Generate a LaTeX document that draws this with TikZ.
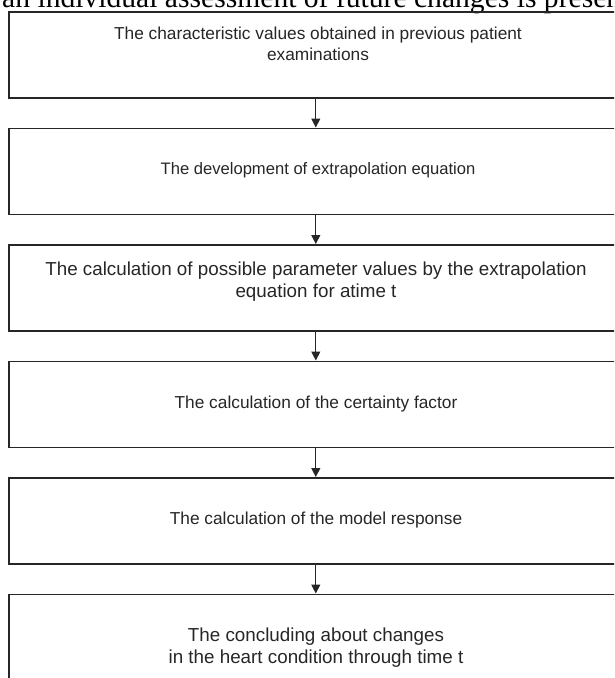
\documentclass[tikz,border=0pt]{standalone}
\usepackage{fontspec}
\setmainfont{Liberation Sans}
\newfontfamily\serifhead{Liberation Serif}
\usetikzlibrary{arrows.meta}
\begin{document}
\begin{tikzpicture}[x=1pt,y=-1pt,
  stepbox/.style={draw=black!85, line width=1.6pt, minimum width=614pt, minimum height=86pt, inner sep=0pt, anchor=north west},
  lbl/.style={align=center, font=\fontsize{17.3}{21.5}\selectfont, inner sep=0pt, text=black!85},
  biglbl/.style={lbl, font=\fontsize{18.8}{22}\selectfont},
  flow/.style={draw=black!85, line width=1.2pt, -{Triangle[length=9pt,width=9pt]}}]
\useasboundingbox (0,0) rectangle (614,678);
\clip (0,0) rectangle (614,678);
\node[anchor=base west, inner sep=0pt, font=\serifhead\fontsize{29.6}{31}\selectfont] (hdr) at (2,7) {an individual assessment of future changes is presented};
\node[stepbox] (b1) at (8,11) {};
\node[stepbox] (b2) at (8,127.5) {};
\node[stepbox] (b3) at (8,244) {};
\node[stepbox] (b4) at (8,360.5) {};
\node[stepbox] (b5) at (8,477) {};
\node[stepbox] (b6) at (8,593.5) {};
\node[lbl] (t1) at (318,44) {The characteristic values obtained in previous patient\\examinations};
\node[lbl, font=\fontsize{16.6}{21}\selectfont] (t2) at (318,170) {The development of extrapolation equation};
\node[biglbl] (t3) at (316,282) {The calculation of possible parameter values by the extrapolation\\equation for atime t};
\node[lbl] (t4) at (316,404) {The calculation of the certainty factor};
\node[lbl] (t5) at (316,520) {The calculation of the model response};
\node[biglbl] (t6) at (316,648) {The concluding about changes\\in the heart condition through time t};
\draw[flow] (b1.south) -- (b2.north);
\draw[flow] (b2.south) -- (b3.north);
\draw[flow] (b3.south) -- (b4.north);
\draw[flow] (b4.south) -- (b5.north);
\draw[flow] (b5.south) -- (b6.north);
\end{tikzpicture}
\end{document}
